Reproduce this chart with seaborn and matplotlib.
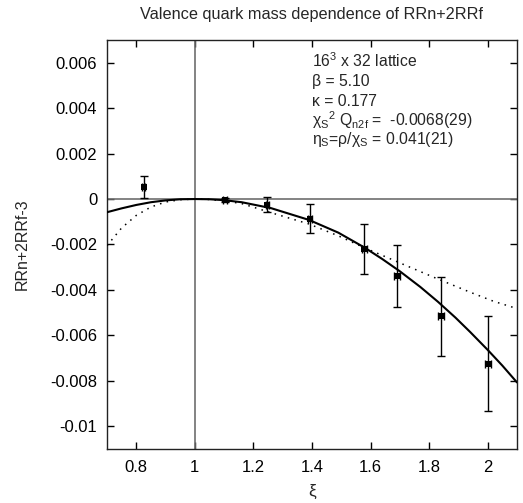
import numpy as np
import pandas as pd
import seaborn as sns
import matplotlib
matplotlib.use("Agg")
import matplotlib.pyplot as plt
from matplotlib.ticker import FuncFormatter

# measured points
xi = [0.825, 1.103, 1.248, 1.393, 1.579, 1.691, 1.841, 2.001]
rr = [0.00053, -0.00003, -0.00026, -0.00087, -0.00222, -0.00338, -0.00516, -0.00725]
rr_err = [0.00048, 0.00008, 0.00033, 0.00064, 0.0011, 0.00136, 0.00174, 0.0021]
xi_err = [0.004, 0.006, 0.006, 0.006, 0.008, 0.01, 0.01, 0.01]

# solid fit curve
fit_x = [0.70, 0.75, 0.80, 0.85, 0.90, 0.95, 1.00, 1.05, 1.10, 1.16, 1.26, 1.39,
         1.49, 1.58, 1.64, 1.70, 1.77, 1.83, 1.89, 1.94, 2.00, 2.05, 2.10]
fit_y = [-0.00058, -0.00041, -0.00026, -0.00014, -0.00006, -0.00001, 0.0, -0.00001,
         -0.00005, -0.00014, -0.0004, -0.00092, -0.00148, -0.00214, -0.00264,
         -0.00318, -0.00387, -0.00452, -0.00522, -0.00585, -0.00664, -0.00733, -0.00807]

# dotted curve
dot_x = [0.70, 0.75, 0.80, 0.85, 0.90, 0.95, 1.00, 1.05, 1.10, 1.16, 1.26, 1.39,
         1.49, 1.58, 1.64, 1.72, 1.83, 1.94, 2.02, 2.10]
dot_y = [-0.00205, -0.00127, -0.00072, -0.00035, -0.00013, -0.00003, 0.0, -0.00002,
         -0.00008, -0.0002, -0.0006, -0.0011, -0.00162, -0.00215, -0.00248,
         -0.00292, -0.00352, -0.0041, -0.0045, -0.00482]

x_ticks = [0.8, 1, 1.2, 1.4, 1.6, 1.8, 2]
y_ticks = [0.006, 0.004, 0.002, 0, -0.002, -0.004, -0.006, -0.008, -0.01]

info_lines = [
    "16$^3$ x 32 lattice",
    "β = 5.10",
    "κ = 0.177",
    "χ$_S$$^2$ Q$_{n2f}$ =  -0.0068(29)",
    "η$_S$=ρ/χ$_S$ = 0.041(21)",
]

sns.set_style("ticks")
plt.rcParams["font.family"] = ["Liberation Sans", "DejaVu Sans"]
plt.rcParams["mathtext.default"] = "regular"

fig = plt.figure(figsize=(5.23, 5.03), dpi=100)
ax = fig.add_axes([0.2046, 0.1074, 0.7839, 0.8131])

ax.axhline(0, color="#6e6e6e", lw=1.2, zorder=1)
ax.axvline(1, color="#6e6e6e", lw=1.2, zorder=1)

fit = pd.DataFrame({"xi": fit_x, "y": fit_y})
dot = pd.DataFrame({"xi": dot_x, "y": dot_y})
sns.lineplot(data=fit, x="xi", y="y", color="black", lw=1.5, ax=ax, zorder=3)
sns.lineplot(data=dot, x="xi", y="y", color="black", lw=1.1, ax=ax, zorder=3,
             linestyle=(0, (1, 3.5)))

ax.errorbar(xi, rr, yerr=rr_err, xerr=xi_err, fmt="none", ecolor="black",
            elinewidth=1.0, capsize=3, capthick=1.0, zorder=4)
pts = pd.DataFrame({"xi": xi, "y": rr})
sns.scatterplot(data=pts, x="xi", y="y", marker="s", s=16, color="black",
                edgecolor="black", linewidth=0, ax=ax, zorder=5)

ax.set_xlim(0.7, 2.1)
ax.set_ylim(-0.011, 0.007)
ax.set_xticks(x_ticks)
ax.set_yticks(y_ticks)
fmt = FuncFormatter(lambda v, p: f"{v:g}")
ax.xaxis.set_major_formatter(fmt)
ax.yaxis.set_major_formatter(fmt)
ax.tick_params(direction="in", top=True, right=True, length=5, width=1,
               labelsize=12, colors="black")
ax.tick_params(axis="x", pad=8)
ax.tick_params(axis="y", pad=7)
for s in ax.spines.values():
    s.set_linewidth(1.0)
    s.set_color("#222222")

ax.set_xlabel("ξ", fontsize=12.5)
ax.set_ylabel("RRn+2RRf-3", fontsize=11.5)
ax.xaxis.set_label_coords(0.5, -0.105)
ax.xaxis.label.set_va("center")
ax.yaxis.set_label_coords(-0.207, 0.5)
ax.yaxis.label.set_va("center")
ax.set_title("Valence quark mass dependence of RRn+2RRf", fontsize=11.7, pad=15)

for line, yy in zip(info_lines, [0.935, 0.888, 0.839, 0.790, 0.745]):
    ax.text(0.5, yy, line, transform=ax.transAxes, fontsize=11.3, va="baseline")

fig.savefig("out.png", dpi=100)
